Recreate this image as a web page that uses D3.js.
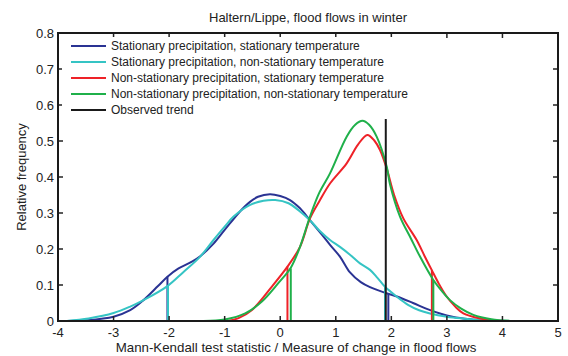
<!DOCTYPE html>
<html><head><meta charset="utf-8">
<script src="https://cdn.jsdelivr.net/npm/d3@7"></script>
<style>body{margin:0;background:#fff}svg{display:block}text{font-family:"Liberation Sans",Arial,sans-serif;fill:#222}</style>
</head><body><svg id="c" width="568" height="356"></svg>
<script>
const title = "Haltern/Lippe, flood flows in winter";
const xLabel = "Mann-Kendall test statistic / Measure of change in flood flows";
const yLabel = "Relative frequency";
const xTicks = [-4,-3,-2,-1,0,1,2,3,4,5];
const yTicks = [0,0.1,0.2,0.3,0.4,0.5,0.6,0.7,0.8];
const seriesNames = ["Stationary precipitation, stationary temperature","Stationary precipitation, non-stationary temperature","Non-stationary precipitation, stationary temperature","Non-stationary precipitation, non-stationary temperature"];
const seriesColors = ["#2a3393","#35c4c4","#ee2228","#1fb04a"];
const blue = [[-3.84,0],[-3.5,0.002],[-3.0,0.012],[-2.7,0.03],[-2.46,0.058],[-2.2,0.097],[-2.03,0.123],[-1.83,0.146],[-1.59,0.165],[-1.44,0.18],[-1.2,0.215],[-1.0,0.253],[-0.72,0.305],[-0.544,0.331],[-0.4,0.345],[-0.185,0.352],[0.0,0.347],[0.176,0.336],[0.356,0.313],[0.535,0.28],[0.75,0.24],[0.9,0.211],[1.075,0.179],[1.256,0.135],[1.45,0.108],[1.616,0.094],[1.916,0.077],[2.1,0.068],[2.39,0.05],[2.65,0.033],[2.876,0.021],[3.1,0.012],[3.415,0.005],[3.83,0]];
const cyan = [[-3.84,0],[-3.45,0.007],[-3.0,0.022],[-2.7,0.04],[-2.46,0.058],[-2.03,0.097],[-1.75,0.135],[-1.44,0.179],[-1.2,0.225],[-1.0,0.262],[-0.84,0.29],[-0.55,0.322],[-0.3,0.334],[-0.09,0.336],[0.15,0.327],[0.35,0.305],[0.535,0.28],[0.7,0.252],[0.896,0.225],[1.075,0.206],[1.25,0.185],[1.436,0.16],[1.616,0.142],[1.75,0.12],[1.886,0.095],[2.096,0.068],[2.3,0.045],[2.5,0.03],[2.696,0.021],[3.0,0.012],[3.29,0.007],[3.7,0.002],[4.26,0]];
const red = [[-0.95,0],[-0.75,0.008],[-0.514,0.03],[-0.154,0.095],[0.13,0.151],[0.356,0.206],[0.536,0.285],[0.716,0.336],[0.896,0.382],[1.196,0.438],[1.4,0.49],[1.568,0.517],[1.7,0.5],[1.796,0.475],[1.916,0.424],[2.05,0.35],[2.216,0.285],[2.456,0.225],[2.6,0.18],[2.726,0.142],[2.85,0.105],[2.996,0.068],[3.15,0.04],[3.296,0.021],[3.6,0.007],[4.0,0]];
const green = [[-1.38,0],[-1.0,0.004],[-0.63,0.021],[-0.33,0.054],[-0.035,0.105],[0.19,0.148],[0.356,0.206],[0.536,0.29],[0.7,0.355],[0.896,0.41],[1.196,0.512],[1.35,0.545],[1.48,0.556],[1.6,0.545],[1.736,0.512],[1.916,0.429],[1.976,0.38],[2.156,0.29],[2.35,0.23],[2.516,0.179],[2.756,0.114],[2.9,0.085],[3.056,0.058],[3.25,0.035],[3.476,0.017],[3.8,0.005],[4.2,0]];
// quantile markers: [x, height] pairs per series
const markers = [[[-2.03,0.123],[1.946,0.077]],[[-2.02,0.097],[1.886,0.095]],[[0.13,0.151],[2.73,0.142]],[[0.19,0.146],[2.756,0.114]]];
const observedTrend = 1.9;
const observedHeight = 0.57;

const svg = d3.select("#c");
const m = {l:58,r:558,t:33,b:321};
const x = d3.scaleLinear().domain([-4,5]).range([m.l,m.r]);
const y = d3.scaleLinear().domain([0,0.8]).range([m.b,m.t]);
const series = [blue,cyan,red,green];

const line = d3.line().x(d=>x(d[0])).y(d=>Math.min(y(0),y(d[1]))).curve(d3.curveCatmullRom.alpha(0.5));
const g = svg.append("g");
series.forEach((s,i)=>{
  g.append("path").attr("d",line(s)).attr("fill","none").attr("stroke",seriesColors[i]).attr("stroke-width",2);
  markers[i].forEach(mk=>{
    g.append("line").attr("x1",x(mk[0])).attr("x2",x(mk[0])).attr("y1",y(0)).attr("y2",y(mk[1]))
      .attr("stroke",seriesColors[i]).attr("stroke-width",2);
  });
});
g.append("line").attr("x1",x(observedTrend)).attr("x2",x(observedTrend)).attr("y1",y(0)).attr("y2",y(observedHeight))
  .attr("stroke","#1a1a1a").attr("stroke-width",2);

// axes (MATLAB style, ticks inside, box)
const tl = 5;
const fs = 13;
const ax = svg.append("g");
xTicks.forEach(t=>{
  ax.append("line").attr("x1",x(t)).attr("x2",x(t)).attr("y1",m.b).attr("y2",m.b-tl).attr("stroke","#222").attr("stroke-width",1.5);
  ax.append("line").attr("x1",x(t)).attr("x2",x(t)).attr("y1",m.t).attr("y2",m.t+tl).attr("stroke","#222").attr("stroke-width",1.5);
  ax.append("text").attr("x",x(t)).attr("y",m.b+16).attr("text-anchor","middle").attr("font-size",fs).text(t);
});
yTicks.forEach(t=>{
  ax.append("line").attr("x1",m.l).attr("x2",m.l+tl).attr("y1",y(t)).attr("y2",y(t)).attr("stroke","#222").attr("stroke-width",1.5);
  ax.append("line").attr("x1",m.r).attr("x2",m.r-tl).attr("y1",y(t)).attr("y2",y(t)).attr("stroke","#222").attr("stroke-width",1.5);
  ax.append("text").attr("x",m.l-4).attr("y",y(t)+4.5).attr("text-anchor","end").attr("font-size",fs).text(t===0?"0":t.toFixed(1));
});

// legend (white background, no border)
const lg = svg.append("g");
lg.append("rect").attr("x",62).attr("y",37).attr("width",358).attr("height",82).attr("fill","#fff");
const names = seriesNames.concat(["Observed trend"]);
const cols = seriesColors.concat(["#1a1a1a"]);
names.forEach((n,i)=>{
  const yy = 46 + i*16;
  lg.append("line").attr("x1",71).attr("x2",106).attr("y1",yy).attr("y2",yy).attr("stroke",cols[i]).attr("stroke-width",2);
  lg.append("text").attr("x",111).attr("y",yy+4.3).attr("font-size",12).text(n);
});

ax.append("rect").attr("x",m.l).attr("y",m.t).attr("width",m.r-m.l).attr("height",m.b-m.t).attr("fill","none").attr("stroke","#1a1a1a").attr("stroke-width",2);

svg.append("text").attr("x",(m.l+m.r)/2).attr("y",22).attr("text-anchor","middle").attr("font-size",13).text(title);
svg.append("text").attr("x",(m.l+m.r)/2 - 12).attr("y",352).attr("text-anchor","middle").attr("font-size",13.3).text(xLabel);
svg.append("text").attr("transform",`translate(26,${(m.t+m.b)/2}) rotate(-90)`).attr("text-anchor","middle").attr("font-size",13).text(yLabel);
</script></body></html>
